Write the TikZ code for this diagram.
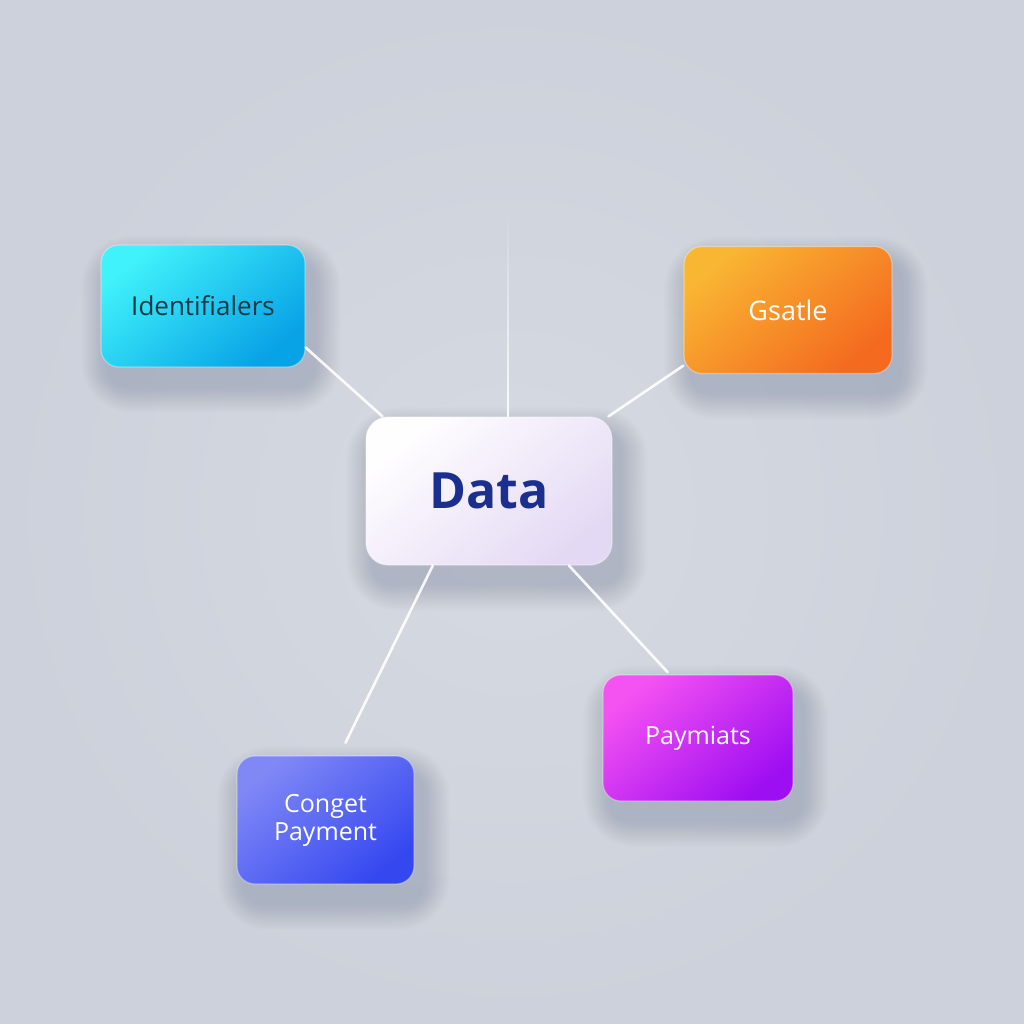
\documentclass[tikz,border=0pt]{standalone}
\usepackage{fontspec}
\setmainfont{Open Sans}
\usetikzlibrary{fadings,calc}
\pgfdeclarelayer{bg}
\pgfdeclarelayer{shadowlayer}
\pgfsetlayers{bg,shadowlayer,main}
\definecolor{bgin}{HTML}{D6DAE2}
\definecolor{bgout}{HTML}{CCD1DB}
\definecolor{shadowc}{HTML}{6E788E}
\definecolor{cyanA}{HTML}{40F2FA}
\definecolor{cyanB}{HTML}{08A2E6}
\definecolor{orA}{HTML}{F9B633}
\definecolor{orB}{HTML}{F46A1F}
\definecolor{blA}{HTML}{8088F6}
\definecolor{blB}{HTML}{3548F0}
\definecolor{pkA}{HTML}{F552F2}
\definecolor{pkB}{HTML}{9E0EF2}
\definecolor{dtA}{HTML}{FFFEFF}
\definecolor{dtB}{HTML}{E4D9F4}
\definecolor{dataText}{HTML}{1A2F8E}
\definecolor{idText}{HTML}{113945}
\tikzset{
  box/.style={rounded corners=9pt, inner sep=0pt, align=center,
    draw=white, draw opacity=0.35, line width=0.6pt},
  idbox/.style={box, top color=cyanA, bottom color=cyanB, shading angle=40,
    text=idText, font=\fontsize{13}{15}\selectfont},
  gsbox/.style={box, top color=orA, bottom color=orB, shading angle=40,
    text=white, font=\fontsize{13.5}{15}\selectfont},
  cpbox/.style={box, top color=blA, bottom color=blB, shading angle=40,
    text=white, font=\fontsize{12.5}{14}\selectfont},
  pmbox/.style={box, top color=pkA, bottom color=pkB, shading angle=40,
    text=white!92!pink, font=\fontsize{12.5}{14}\selectfont},
  databox/.style={box, rounded corners=11pt, top color=dtA, bottom color=dtB, shading angle=40,
    text=dataText, font=\fontsize{25}{28}\bfseries\selectfont},
  conn/.style={draw=white, line width=1.3pt, line cap=round, draw opacity=0.9},
}
\newcommand\softshadow[1]{%
  \begin{pgfonlayer}{shadowlayer}
    \foreach \i in {1,...,18}{
      \fill[shadowc, opacity=0.016, rounded corners={9pt+\i*0.9pt}]
        ($(#1.north west)+(8-\i*1.5,18-\i*1.5)$) rectangle
        ($(#1.south east)+(8+\i*1.5,18+\i*1.5)$);
    }
  \end{pgfonlayer}}
\begin{document}
\begin{tikzpicture}[x=0.5pt,y=-0.5pt]
  \begin{pgfonlayer}{bg}
    \shade[inner color=bgin, outer color=bgout] (0,0) rectangle (1024,1024);
  \end{pgfonlayer}
  \useasboundingbox (0,0) rectangle (1024,1024);

  \node[databox, minimum width=123pt, minimum height=74pt] (data) at (489,491) {Data};
  \node[idbox, minimum width=102pt, minimum height=61pt] (id) at (203,306) {Identifialers};
  \node[gsbox, minimum width=104pt, minimum height=63.5pt] (gs) at (788,310) {Gsatle};
  \node[cpbox, minimum width=88.5pt, minimum height=64pt] (cp) at (325.5,820) {Conget\\Payment};
  \node[pmbox, minimum width=95pt, minimum height=63pt] (pm) at (698,738) {Paymiats};

  \softshadow{data}
  \softshadow{id}
  \softshadow{gs}
  \softshadow{cp}
  \softshadow{pm}

  \coordinate (top) at (508,210);
  \begin{pgfonlayer}{shadowlayer}
    \draw[conn, path fading=north] (top) -- (top |- data.north);
  \end{pgfonlayer}
  \draw[conn] (id.-22) -- (data.145);
  \draw[conn] (gs.208) -- (data.32);
  \draw[conn, shorten >=7pt] (data.-127) -- (cp.78);
  \draw[conn, shorten >=1.5pt] (data.-43) -- (pm.114);
\end{tikzpicture}
\end{document}
